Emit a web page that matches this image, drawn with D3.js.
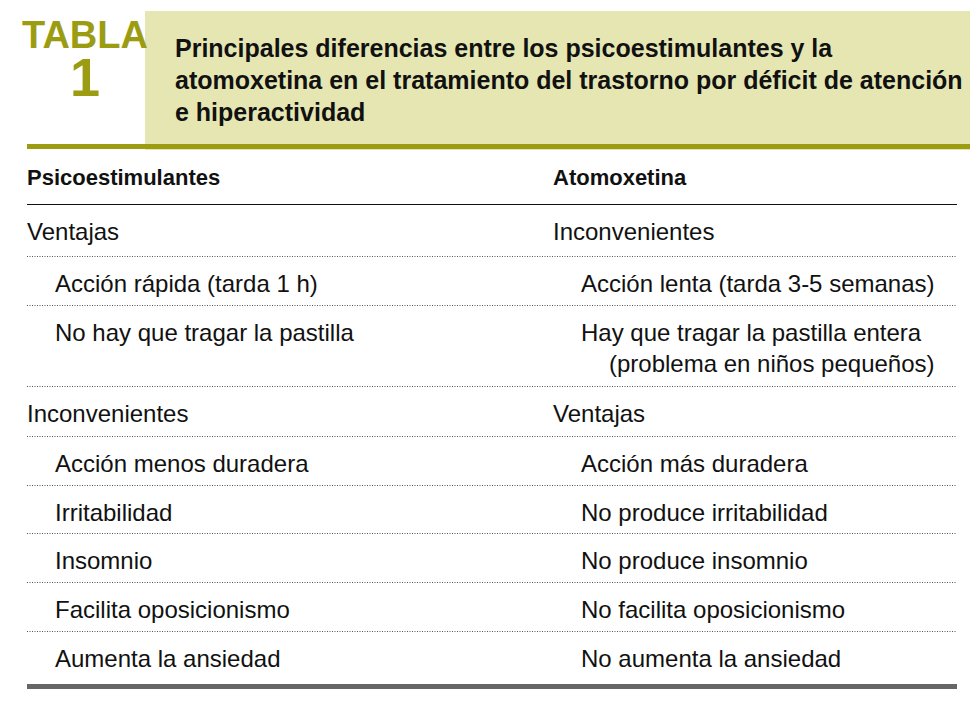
<!DOCTYPE html>
<html><head><meta charset="utf-8">
<script src="https://cdn.jsdelivr.net/npm/d3@7"></script>
<style>body{margin:0;background:#fff}text{font-family:"Liberation Sans Narrow","Arial Narrow",sans-serif}</style>
</head><body><svg id="c" width="970" height="713"></svg>
<script>
const titleLines = ["Principales diferencias entre los psicoestimulantes y la","atomoxetina en el tratamiento del trastorno por déficit de atención","e hiperactividad"];
const columnHeaders = ["Psicoestimulantes","Atomoxetina"];
const rowsLeft = ["Ventajas","Acción rápida (tarda 1 h)","No hay que tragar la pastilla","Inconvenientes","Acción menos duradera","Irritabilidad","Insomnio","Facilita oposicionismo","Aumenta la ansiedad"];
const rowsRight = [["Inconvenientes"],["Acción lenta (tarda 3-5 semanas)"],["Hay que tragar la pastilla entera","(problema en niños pequeños)"],["Ventajas"],["Acción más duradera"],["No produce irritabilidad"],["No produce insomnio"],["No facilita oposicionismo"],["No aumenta la ansiedad"]];
const rowLevel = [0,1,1,0,1,1,1,1,1];
const rowBounds = [204,256,305,386,436,485,533,582,631,686];

const svg = d3.select("#c");
const olive = "#9c9c12";
// measure the font to get a horizontal condensing factor
const probe = svg.append("text").attr("font-size",24).text("Aumenta la ansiedad");
const measured = probe.node().getComputedTextLength();
probe.remove();
const sx = Math.min(1, 230/measured);
function txt(x,y,s,opts){
  const t = svg.append("text").attr("transform",`translate(${x},${y}) scale(${sx},1)`)
    .attr("font-size",opts.size).attr("fill",opts.fill||"#111").text(s);
  if(opts.bold) t.attr("font-weight","bold");
  if(opts.anchor) t.attr("text-anchor",opts.anchor);
  return t;
}
svg.append("rect").attr("x",145).attr("y",11).attr("width",825).attr("height",139).attr("fill","#e5e6b2");
svg.append("rect").attr("x",27).attr("y",144).attr("width",943).attr("height",5).attr("fill",olive);
txt(85,48,"TABLA",{size:38,bold:true,fill:olive,anchor:"middle"});
txt(85,96,"1",{size:54,bold:true,fill:olive,anchor:"middle"});
titleLines.forEach((d,i)=>txt(175,57+i*32,d,{size:25,bold:true}));
const colX = [27,553];
columnHeaders.forEach((d,i)=>txt(colX[i],185,d,{size:22,bold:true}));
svg.append("line").attr("x1",27).attr("x2",957).attr("y1",204.5).attr("y2",204.5).attr("stroke","#111").attr("stroke-width",1.2);

rowsLeft.forEach((t,i)=>{
  const top = rowBounds[i], ind = rowLevel[i]*28;
  txt(colX[0]+ind, top+36, t, {size:24});
  rowsRight[i].forEach((r,j)=>txt(colX[1]+ind+j*28, top+36+j*31, r, {size:24}));
  if(i>0) svg.append("line").attr("x1",27).attr("x2",957).attr("y1",top+0.5).attr("y2",top+0.5)
    .attr("stroke","#555").attr("stroke-width",1).attr("stroke-dasharray","1,1.5");
});
svg.append("rect").attr("x",27).attr("y",684).attr("width",930).attr("height",5).attr("fill","#666");
</script></body></html>
